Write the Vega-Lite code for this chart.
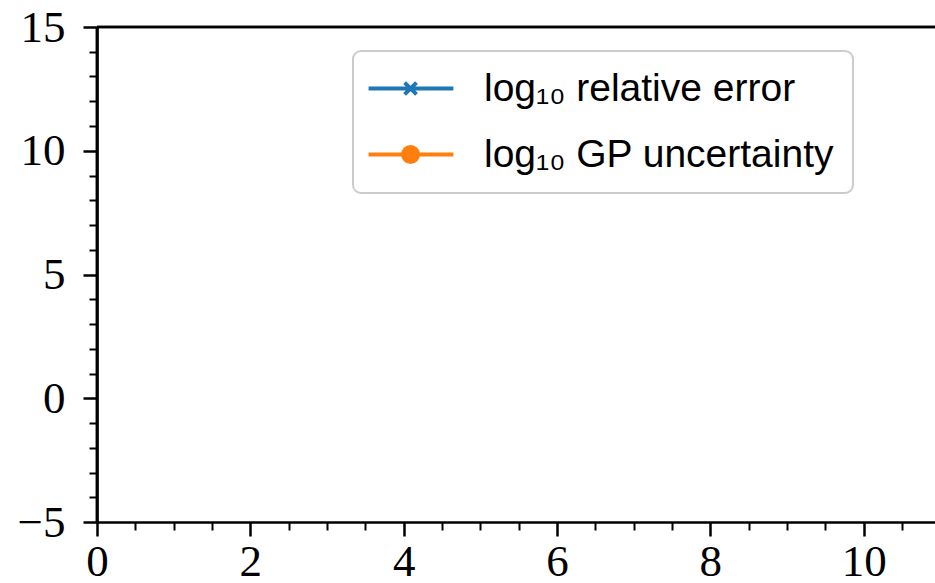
{
  "$schema": "https://vega.github.io/schema/vega-lite/v6.json",
  "autosize": {"type": "none"},
  "padding": {"left": 97, "top": 27, "right": 0, "bottom": 61},
  "width": 838,
  "height": 495,
  "background": "white",
  "config": {
    "view": {"stroke": null},
    "axis": {
      "labelFont": "Liberation Serif",
      "labelFontSize": 45,
      "labelColor": "black",
      "domainColor": "black",
      "domainWidth": 2.5,
      "tickColor": "black",
      "grid": false,
      "title": null
    }
  },
  "data": {
    "values": [
      {"x": null, "y": null, "series": "relative error"},
      {"x": null, "y": null, "series": "GP uncertainty"}
    ]
  },
  "layer": [
    {
      "mark": {"type": "line", "strokeWidth": 3},
      "encoding": {
        "x": {
          "field": "x", "type": "quantitative",
          "scale": {"domain": [0, 10.93], "nice": false, "zero": false},
          "axis": {"orient": "bottom", "values": [0, 2, 4, 6, 8, 10], "tickSize": 14, "tickWidth": 2.5, "labelPadding": 3, "labelFlush": false, "labelOverlap": false}
        },
        "y": {
          "field": "y", "type": "quantitative",
          "scale": {"domain": [-5, 15], "nice": false, "zero": false},
          "axis": {"orient": "left", "values": [-5, 0, 5, 10, 15], "tickSize": 14, "tickWidth": 2.5, "labelPadding": 18, "labelFlush": false, "labelOverlap": false}
        },
        "color": {
          "field": "series", "type": "nominal",
          "scale": {"domain": ["relative error", "GP uncertainty"], "range": ["#1f77b4", "#ff7f0e"]},
          "legend": {
            "orient": "none",
            "legendX": 256,
            "legendY": 24,
            "title": null,
            "fillColor": "white",
            "strokeColor": "#cccccc",
            "cornerRadius": 8,
            "padding": 18,
            "symbolType": "M-1.29,0L3.7,0",
            "symbolSize": 1156,
            "symbolStrokeWidth": 4,
            "labelFont": "Liberation Sans",
            "labelFontSize": 39,
            "labelColor": "black",
            "labelOffset": 74,
            "labelLimit": 600,
            "rowPadding": 26,
            "labelExpr": "'log₁₀ ' + datum.label",
            "encode": {
              "legend": {"update": {"strokeWidth": {"value": 2}}},
              "symbols": {
                "update": {
                  "shape": {"signal": "datum.value === 'GP uncertainty' ? 'M-1.29,0L3.7,0M1.62,0A0.44,0.44,0,1,1,0.74,0A0.44,0.44,0,1,1,1.62,0Z' : 'M-1.29,0L3.7,0M0.83,-0.35L1.53,0.35M0.83,0.35L1.53,-0.35'"},
                  "fill": {"signal": "datum.value === 'GP uncertainty' ? '#ff7f0e' : 'transparent'"},
                  "strokeWidth": {"value": 4}
                }
              }
            }
          }
        }
      }
    },
    {
      "mark": {"type": "rule", "color": "black", "strokeWidth": 2.5},
      "encoding": {
        "y": {
          "datum": 15, "type": "quantitative",
          "axis": {"orient": "left", "values": [-4, -3, -2, -1, 1, 2, 3, 4, 6, 7, 8, 9, 11, 12, 13, 14], "tickSize": 8, "tickWidth": 2, "labels": false, "domain": false}
        }
      }
    },
    {
      "mark": {"type": "rule", "color": "black", "strokeWidth": 2.5},
      "encoding": {
        "x": {
          "datum": 0, "type": "quantitative",
          "axis": {"orient": "bottom", "values": [0.5, 1, 1.5, 2.5, 3, 3.5, 4.5, 5, 5.5, 6.5, 7, 7.5, 8.5, 9, 9.5, 10.5], "tickSize": 8, "tickWidth": 2, "labels": false, "domain": false}
        }
      }
    }
  ],
  "resolve": {"axis": {"x": "independent", "y": "independent"}}
}
